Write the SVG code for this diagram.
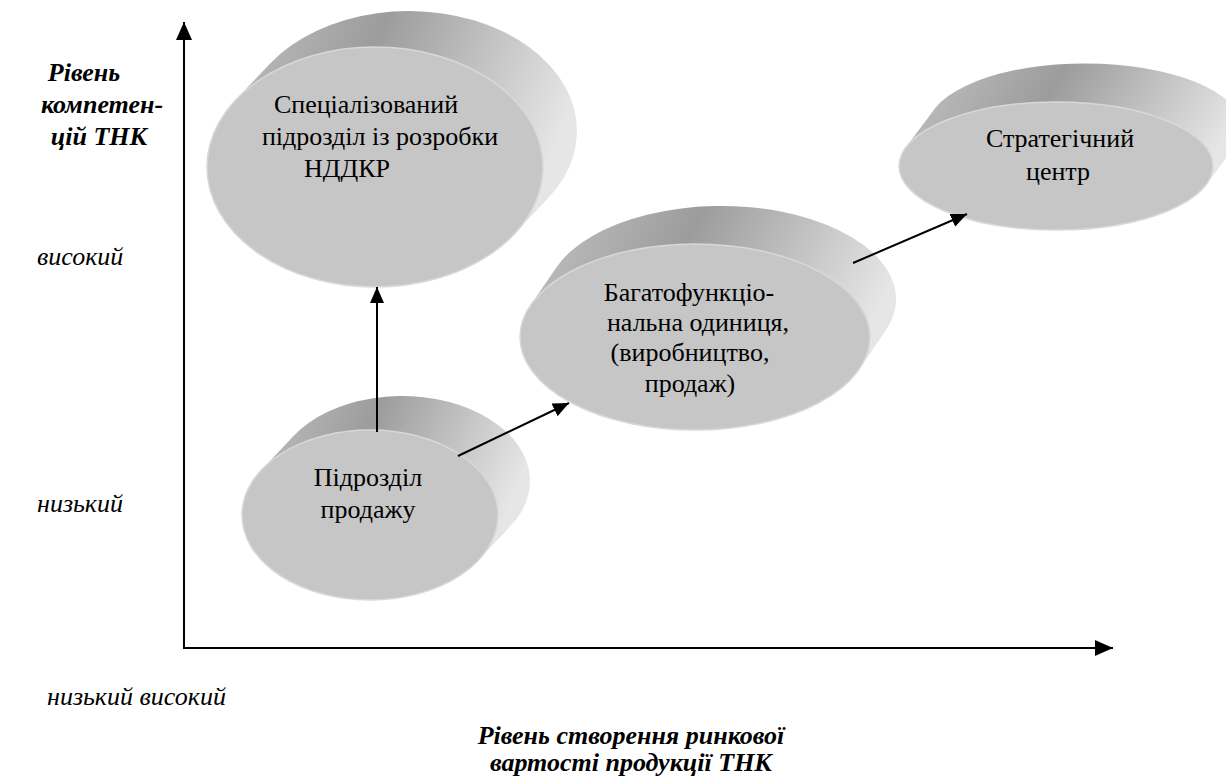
<svg xmlns="http://www.w3.org/2000/svg" width="1226" height="778" viewBox="0 0 1226 778">
<defs>
<linearGradient id="sideGrad" x1="0" y1="0" x2="1" y2="0.3">
<stop offset="0" stop-color="#c6c6c6"/>
<stop offset="0.45" stop-color="#9c9c9c"/>
<stop offset="1" stop-color="#e6e6e6"/>
</linearGradient>
<marker id="arr" markerUnits="userSpaceOnUse" markerWidth="16" markerHeight="14" refX="16" refY="7" orient="auto">
<path d="M0,0 L16,7 L0,14 z" fill="#000"/>
</marker>
<marker id="axarr" markerUnits="userSpaceOnUse" markerWidth="18" markerHeight="16" refX="18" refY="8" orient="auto">
<path d="M0,0 L18,8 L0,16 z" fill="#000"/>
</marker>
</defs>
<rect width="1226" height="778" fill="#fff"/>

<g id="axes" stroke="#000" stroke-width="2" fill="none" marker-end="url(#axarr)">
<line x1="184" y1="648" x2="184" y2="22"/>
<line x1="183" y1="648" x2="1113" y2="648"/>
</g>

<g id="node-rnd">
<path fill="url(#sideGrad)" d="M235.7,99.9 L269.7,63.9 A168,120 0 0 1 548.3,198.1 L514.3,234.1 A168,120 0 0 1 235.7,99.9 Z"/>
<ellipse fill="#c6c6c6" stroke="#d8d8d8" stroke-width="1.5" cx="375" cy="167" rx="168" ry="120"/>
<text x="366" y="113" font-family="Liberation Serif" font-size="26" text-anchor="middle">Спеціалізований</text>
<text x="380" y="145" font-family="Liberation Serif" font-size="26" text-anchor="middle">підрозділ із розробки</text>
<text x="347" y="177" font-family="Liberation Serif" font-size="26" text-anchor="middle">НДДКР</text>
</g>

<g id="node-sales">
<path fill="url(#sideGrad)" d="M261.5,469.9 L293.5,435.9 A128,85 0 0 1 510.5,526.1 L478.5,560.1 A128,85 0 0 1 261.5,469.9 Z"/>
<ellipse fill="#c6c6c6" stroke="#d8d8d8" stroke-width="1.5" cx="370" cy="515" rx="128" ry="85"/>
<text x="368" y="486" font-family="Liberation Serif" font-size="26" text-anchor="middle">Підрозділ</text>
<text x="368" y="518" font-family="Liberation Serif" font-size="26" text-anchor="middle">продажу</text>
</g>

<g id="node-multi">
<path fill="url(#sideGrad)" d="M530.5,305.2 L556.5,267.2 A175,93 0 0 1 885.5,330.8 L859.5,368.8 A175,93 0 0 1 530.5,305.2 Z"/>
<ellipse fill="#c6c6c6" stroke="#d8d8d8" stroke-width="1.5" cx="695" cy="337" rx="175" ry="93"/>
<text x="689" y="301" font-family="Liberation Serif" font-size="26" text-anchor="middle">Багатофункціо-</text>
<text x="698" y="331" font-family="Liberation Serif" font-size="26" text-anchor="middle">нальна одиниця,</text>
<text x="690" y="361" font-family="Liberation Serif" font-size="26" text-anchor="middle">(виробництво,</text>
<text x="690" y="392" font-family="Liberation Serif" font-size="26" text-anchor="middle">продаж)</text>
</g>

<g id="node-strategic">
<path fill="url(#sideGrad)" d="M905.9,147.3 L935.9,107.3 A157,64 0 0 1 1236.1,144.7 L1206.1,184.7 A157,64 0 0 1 905.9,147.3 Z"/>
<ellipse fill="#c6c6c6" stroke="#d8d8d8" stroke-width="1.5" cx="1056" cy="166" rx="157" ry="64"/>
<text x="1060" y="147" font-family="Liberation Serif" font-size="26" text-anchor="middle">Стратегічний</text>
<text x="1058" y="180" font-family="Liberation Serif" font-size="26" text-anchor="middle">центр</text>
</g>

<g id="connectors" stroke="#000" stroke-width="2" fill="none" marker-end="url(#arr)">
<line x1="377" y1="432" x2="377" y2="287"/>
<line x1="458" y1="456" x2="569" y2="403"/>
<line x1="853" y1="263" x2="967" y2="214"/>
</g>

<g id="labels">
<text x="84" y="81" font-family="Liberation Serif" font-size="26" font-style="italic" font-weight="bold" text-anchor="middle">Рівень</text>
<text x="102" y="113" font-family="Liberation Serif" font-size="26" font-style="italic" font-weight="bold" text-anchor="middle">компетен-</text>
<text x="99" y="145" font-family="Liberation Serif" font-size="26" font-style="italic" font-weight="bold" text-anchor="middle">цій ТНК</text>
<text x="631" y="744" font-family="Liberation Serif" font-size="26" font-style="italic" font-weight="bold" text-anchor="middle">Рівень створення ринкової</text>
<text x="631" y="771" font-family="Liberation Serif" font-size="26" font-style="italic" font-weight="bold" text-anchor="middle">вартості продукції ТНК</text>
<text x="37" y="265" font-family="Liberation Serif" font-size="26" font-style="italic">високий</text>
<text x="37" y="512" font-family="Liberation Serif" font-size="26" font-style="italic">низький</text>
<text x="47" y="705" font-family="Liberation Serif" font-size="26" font-style="italic">низький високий</text>
</g>
</svg>
